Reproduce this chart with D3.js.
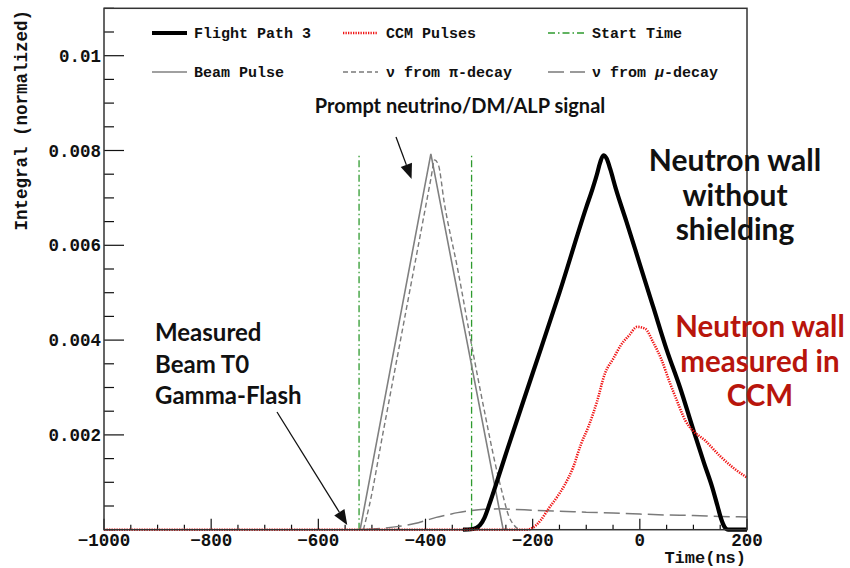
<!DOCTYPE html>
<html><head><meta charset="utf-8">
<script src="https://cdn.jsdelivr.net/npm/d3@7"></script>
<style>body{margin:0;background:#fff}</style>
</head><body><svg id="c" width="850" height="568"></svg>
<script>
// ---------- data ----------
const xMajorTicks = [-1000,-800,-600,-400,-200,0,200];
const yMajorTicks = [0.002,0.004,0.006,0.008,0.01];
const yTickLabels = ["0.002","0.004","0.006","0.008","0.01"];

const fpTime  = [-330,-315,-305,-298,-290,-280,-270,-250,-200,-150,-100,-88,-80,-74,-68,-62,-55,-45,-25,0,25,50,75,100,120,135,145,152,158,165,200];
const fpValue = [0,0.00001,0.00004,0.0001,0.00025,0.00056,0.0009,0.0016,0.0033,0.005,0.0068,0.0072,0.0075,0.00775,0.0079,0.00783,0.0076,0.0072,0.0065,0.0056,0.0047,0.0038,0.003,0.0021,0.0014,0.0009,0.0005,0.00022,0.00006,0,0];

const ccmTime  = [-1000,-210,-200,-185,-170,-155,-140,-125,-110,-95,-80,-65,-50,-35,-20,-5,10,25,40,56,70,85,100,120,150,175,200];
const ccmValue = [0,0,0.00004,0.0002,0.00045,0.00068,0.00095,0.0013,0.0018,0.0022,0.0027,0.0033,0.0036,0.0039,0.0041,0.00428,0.00424,0.00395,0.0036,0.0031,0.0027,0.0023,0.00208,0.0019,0.00155,0.0013,0.0011];

const beamTime  = [-522,-390,-255];
const beamValue = [0,0.00793,0];

const piTime  = [-516,-505,-480,-440,-400,-390,-383,-376,-365,-340,-314,-290,-270,-255,-245,-235,-225];
const piValue = [0,0.0005,0.002,0.0044,0.0068,0.0074,0.0078,0.0077,0.0069,0.0055,0.0039,0.0025,0.0014,0.0007,0.0003,0.0001,0];

const muTime  = [-515,-480,-450,-420,-398,-380,-360,-340,-317,-290,-260,-235,-200,-150,-100,-50,0,50,100,150,200];
const muValue = [0,0.00003,0.00007,0.00013,0.0002,0.00026,0.00031,0.00036,0.0004,0.00043,0.00044,0.00043,0.00041,0.00039,0.00037,0.00035,0.00033,0.00031,0.0003,0.00028,0.00027];

const startTimes = [-524,-314];
const startTop = 0.0079;

const legendLabels = ["Flight Path 3","CCM Pulses","Start Time","Beam Pulse","\u03bd from \u03c0-decay","\u03bd from \u03bc-decay"];

// ---------- layout ----------
const svg = d3.select("#c");
const L = 104, R = 747, T = 8.3, B = 529.7;
const x = d3.scaleLinear().domain([-1000,200]).range([L,R]);
const y = d3.scaleLinear().domain([0,0.011]).range([B,T]);
const mono = "'Liberation Mono', 'DejaVu Sans Mono', monospace";
const sans = "Lato, 'Open Sans', sans-serif";

svg.append("clipPath").attr("id","pc").append("rect")
  .attr("x",L).attr("y",T).attr("width",R-L).attr("height",B-T+3);

// ticks
const g = svg.append("g");
const yMinor = d3.range(0, 0.01101, 0.0005);
yMinor.forEach(v => {
  const major = yMajorTicks.some(m => Math.abs(m-v)<1e-9);
  g.append("line").attr("x1",L).attr("x2",L+(major?20:10))
    .attr("y1",y(v)).attr("y2",y(v)).attr("stroke","#111").attr("stroke-width",1.2);
});
const xMinor = d3.range(-1000, 201, 50);
xMinor.forEach(t => {
  const major = xMajorTicks.includes(t);
  g.append("line").attr("x1",x(t)).attr("x2",x(t))
    .attr("y1",B).attr("y2",B-(major?11:5)).attr("stroke","#111").attr("stroke-width",1.2);
});
// tick labels
yMajorTicks.forEach((v,i) => {
  svg.append("text").attr("x",L-3).attr("y",y(v)+6).attr("text-anchor","end")
    .attr("font-family",mono).attr("font-weight","bold").attr("font-size",17.5)
    .attr("fill","#111").text(yTickLabels[i]);
});
xMajorTicks.forEach(t => {
  svg.append("text").attr("x",x(t)).attr("y",545.5).attr("text-anchor","middle")
    .attr("font-family",mono).attr("font-weight","bold").attr("font-size",17.5)
    .attr("fill","#111").text(t<0 ? "\u2212"+Math.abs(t) : String(t));
});
// axis titles
svg.append("text").attr("x",746).attr("y",563).attr("text-anchor","end")
  .attr("font-family",mono).attr("font-weight","bold").attr("font-size",17)
  .attr("fill","#111").text("Time(ns)");
svg.append("text").attr("transform","translate(27,10) rotate(-90)").attr("text-anchor","end")
  .attr("font-family",mono).attr("font-weight","bold").attr("font-size",17.5)
  .attr("fill","#111").text("Integral (normalized)");

// curves
const plot = svg.append("g").attr("clip-path","url(#pc)");
const mk = (ts,vs) => ts.map((t,i)=>[t,vs[i]]);
const lineS = d3.line().x(d=>x(d[0])).y(d=>y(d[1])).curve(d3.curveMonotoneX);
const lineL = d3.line().x(d=>x(d[0])).y(d=>y(d[1]));

const green = "#2e9a2e";
startTimes.forEach(t => {
  plot.append("line").attr("x1",x(t)).attr("x2",x(t)).attr("y1",y(0)).attr("y2",y(startTop))
    .attr("stroke",green).attr("stroke-width",1.3).attr("stroke-dasharray","7,3,1.5,3");
});
plot.append("path").attr("d",lineS(mk(muTime,muValue))).attr("fill","none")
  .attr("stroke","#7a7a7a").attr("stroke-width",1.5).attr("stroke-dasharray","16,6");
plot.append("path").attr("d",lineL(mk(beamTime,beamValue))).attr("fill","none")
  .attr("stroke","#808080").attr("stroke-width",1.6);
plot.append("path").attr("d",lineS(mk(piTime,piValue))).attr("fill","none")
  .attr("stroke","#7a7a7a").attr("stroke-width",1.4).attr("stroke-dasharray","5,3");
plot.append("path").attr("d",lineS(mk(fpTime,fpValue))).attr("fill","none")
  .attr("stroke","#000").attr("stroke-width",4.2).attr("stroke-linejoin","round");
plot.append("path").attr("d",lineS(mk(ccmTime,ccmValue))).attr("fill","none")
  .attr("stroke","#f01414").attr("stroke-width",2.6).attr("stroke-dasharray","1.3,1.2");

// frame
svg.append("rect").attr("x",L).attr("y",T).attr("width",R-L).attr("height",B-T)
  .attr("fill","none").attr("stroke","#333").attr("stroke-width",1.5);

// legend
const legend = [
  {c:0,r:0,stroke:"#000",w:4,dash:null},
  {c:1,r:0,stroke:"#f01414",w:2.6,dash:"1.3,1.2"},
  {c:2,r:0,stroke:green,w:1.3,dash:"7,3,1.5,3"},
  {c:0,r:1,stroke:"#808080",w:1.6,dash:null},
  {c:1,r:1,stroke:"#7a7a7a",w:1.4,dash:"5,3"},
  {c:2,r:1,stroke:"#7a7a7a",w:1.5,dash:"16,6"}
];
const colX = [[152,187,194],[343,378,386],[548,585,592]];
const rowY = [33,72];
legend.forEach((e,i) => {
  const cx = colX[e.c], ry = rowY[e.r];
  const ln = svg.append("line").attr("x1",cx[0]).attr("x2",cx[1]).attr("y1",ry).attr("y2",ry)
    .attr("stroke",e.stroke).attr("stroke-width",e.w);
  if (e.dash) ln.attr("stroke-dasharray",e.dash);
  const tx = svg.append("text").attr("x",cx[2]).attr("y",ry+5)
    .attr("font-family",mono).attr("font-weight","bold").attr("font-size",15).attr("fill","#111");
  if (i===5) {
    tx.append("tspan").text("\u03bd from ");
    tx.append("tspan").attr("font-style","italic").text("\u03bc");
    tx.append("tspan").text("-decay");
  } else tx.text(legendLabels[i]);
});

// annotations
function ann(lines, xp, y0, dy, size, color, anchor) {
  lines.forEach((s,i) => svg.append("text").attr("x",xp).attr("y",y0+i*dy)
    .attr("text-anchor",anchor).attr("font-family",sans).attr("font-weight","bold")
    .attr("font-size",size).attr("fill",color).text(s));
}
ann(["Prompt neutrino/DM/ALP signal"], 460, 113, 0, 20, "#111", "middle");
ann(["Neutron wall","without","shielding"], 735, 171, 34.5, 30, "#111", "middle");
ann(["Neutron wall","measured in","CCM"], 760, 337, 34.5, 29.5, "#b8150c", "middle");
ann(["Measured","Beam T0","Gamma-Flash"], 155, 341, 31.5, 24, "#111", "start");

function arrow(x1,y1,x2,y2) {
  const a = Math.atan2(y2-y1,x2-x1), len=15, hw=6;
  const bx = x2-len*Math.cos(a), by = y2-len*Math.sin(a);
  svg.append("line").attr("x1",x1).attr("y1",y1).attr("x2",bx).attr("y2",by)
    .attr("stroke","#111").attr("stroke-width",1.3);
  svg.append("path").attr("d",`M${x2},${y2}L${bx+hw*Math.sin(a)},${by-hw*Math.cos(a)}L${bx-hw*Math.sin(a)},${by+hw*Math.cos(a)}Z`)
    .attr("fill","#111");
}
arrow(396,137, x(-426), y(0.0074));
arrow(277,412, x(-546), y(0.0001));
</script></body></html>
